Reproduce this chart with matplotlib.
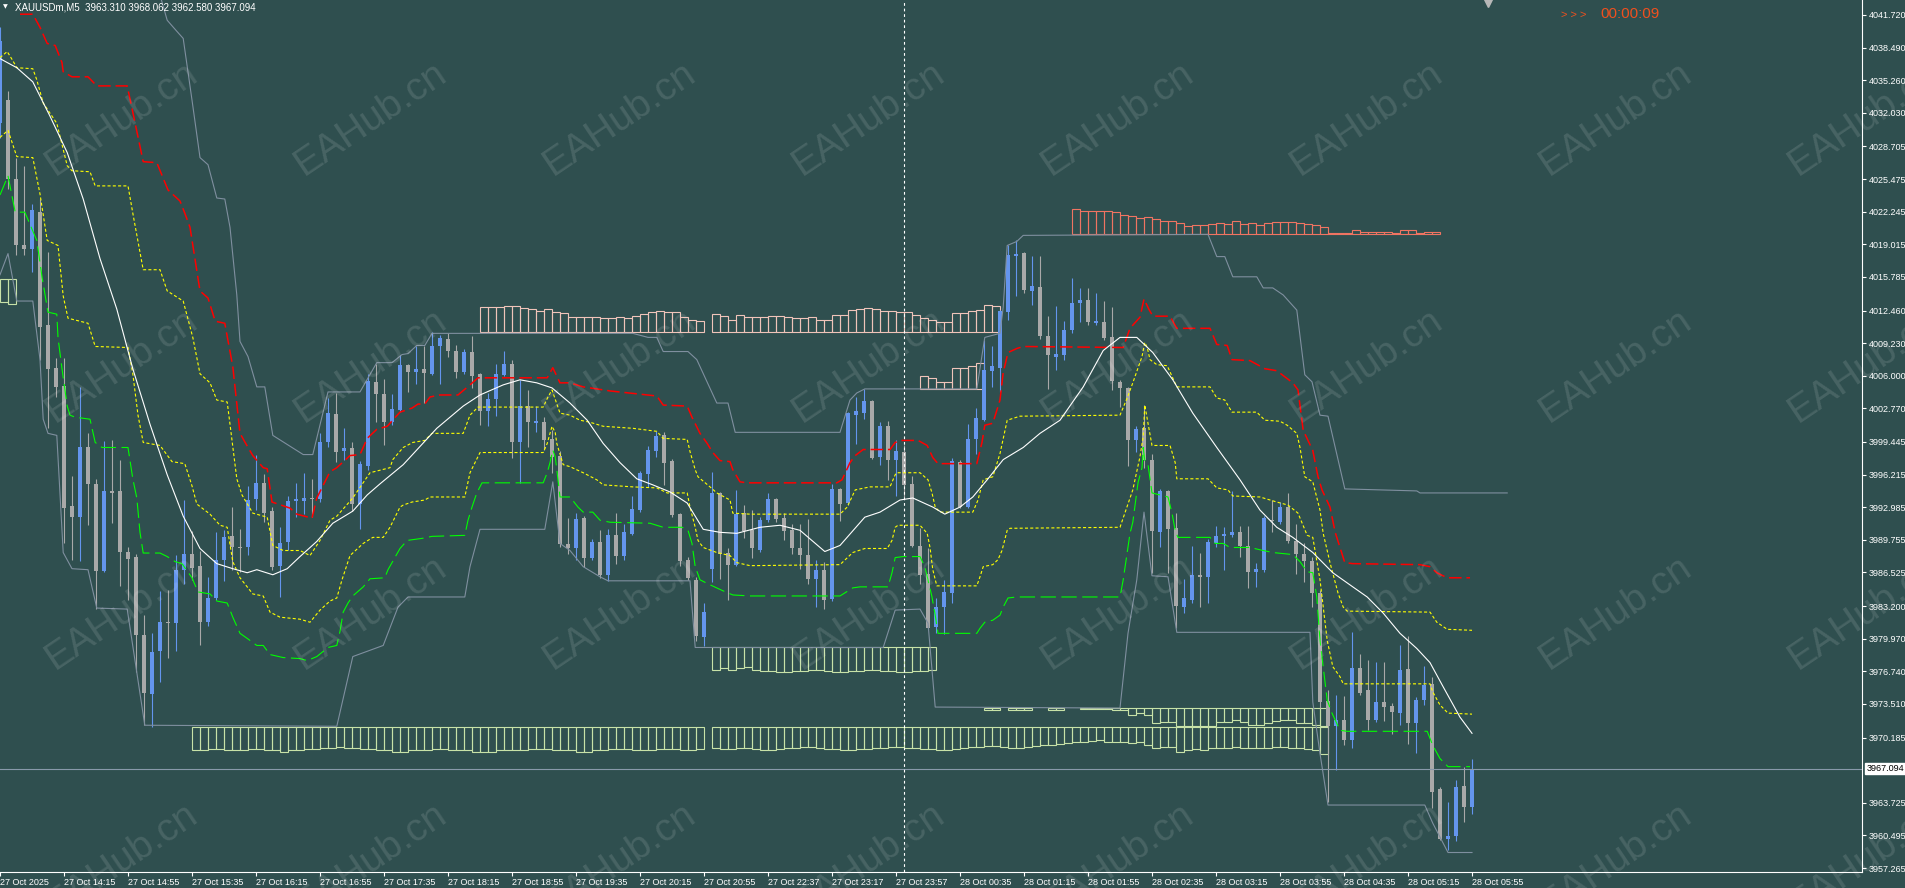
import numpy as np
import matplotlib
matplotlib.use("Agg")
import matplotlib.pyplot as plt
from matplotlib.patches import Rectangle

plt.rcParams["font.family"] = ["Liberation Sans", "DejaVu Sans"]
plt.rcParams["lines.scale_dashes"] = False

# ---------------- data ----------------
# one row per M5 bar: open, high, low, close
ohlc = [
    (4031.0, 4040.5, 4029.5, 4039.1), (4033.3, 4034.2, 4024.5, 4025.5), (4025.5, 4027.6, 4018.0, 4018.9),
    (4018.9, 4026.8, 4018.0, 4018.6), (4018.6, 4023.0, 4016.3, 4022.4), (4022.2, 4023.5, 4007.6, 4010.8),
    (4011.0, 4018.3, 4000.8, 4006.7), (4006.8, 4007.8, 4003.9, 4004.9), (4005.0, 4007.8, 3989.4, 3992.9),
    (3993.1, 3996.1, 3987.8, 3992.0), (3992.0, 4004.9, 3987.7, 3998.9), (3998.9, 4000.3, 3991.2, 3995.3),
    (3995.3, 3995.8, 3982.9, 3986.7), (3986.7, 3999.5, 3986.6, 3994.6), (3994.6, 3999.6, 3991.4, 3994.4),
    (3994.6, 3997.7, 3985.2, 3988.6), (3988.6, 3989.0, 3983.8, 3987.9), (3988.1, 3988.4, 3976.7, 3980.3),
    (3980.3, 3982.3, 3971.4, 3974.6), (3974.5, 3980.5, 3971.2, 3978.7), (3978.8, 3984.7, 3975.7, 3981.6),
    (3981.6, 3984.8, 3978.1, 3981.5), (3981.5, 3988.3, 3978.8, 3986.8), (3986.8, 3993.7, 3985.4, 3988.4),
    (3988.4, 3990.6, 3985.8, 3987.0), (3987.2, 3988.7, 3979.3, 3981.6), (3981.6, 3986.1, 3981.2, 3984.0),
    (3984.0, 3990.5, 3983.8, 3987.8), (3987.8, 3990.7, 3985.7, 3990.0), (3990.1, 3993.0, 3986.8, 3989.0),
    (3989.0, 3990.8, 3986.6, 3988.9), (3989.0, 3995.1, 3988.3, 3993.7), (3993.8, 3998.2, 3992.7, 3995.4),
    (3995.4, 3996.3, 3991.5, 3992.4), (3992.6, 3993.0, 3986.8, 3987.1), (3987.2, 3991.0, 3984.1, 3989.4),
    (3989.5, 3994.1, 3988.8, 3993.6), (3993.6, 3995.4, 3992.0, 3993.8), (3993.6, 3996.4, 3992.3, 3993.9),
    (3993.9, 3995.8, 3992.0, 3993.8), (3993.8, 4000.3, 3993.5, 3999.4), (3999.4, 4003.8, 3998.9, 4002.3),
    (4002.2, 4004.3, 3997.5, 3998.5), (3998.6, 4000.8, 3997.7, 3998.8), (3998.8, 3999.4, 3992.6, 3993.3),
    (3993.3, 3997.6, 3990.8, 3997.3), (3997.1, 4006.2, 3996.7, 4005.5), (4005.4, 4007.2, 4001.4, 4004.2),
    (4004.2, 4005.7, 3999.1, 4001.4), (4001.4, 4004.2, 4001.1, 4002.7), (4002.6, 4008.1, 4002.4, 4007.1),
    (4007.1, 4007.2, 4004.4, 4006.4), (4006.4, 4008.9, 4005.2, 4006.7), (4006.7, 4008.9, 4003.3, 4006.3),
    (4006.2, 4010.3, 4006.1, 4008.9), (4008.9, 4010.0, 4005.2, 4009.7), (4009.6, 4010.2, 4007.9, 4008.5),
    (4008.5, 4009.0, 4005.8, 4006.4), (4006.4, 4008.7, 4006.2, 4008.4), (4008.4, 4009.9, 4004.8, 4006.0),
    (4006.2, 4006.3, 4001.1, 4002.5), (4002.5, 4004.3, 4001.0, 4003.7), (4003.7, 4007.2, 4002.0, 4006.2),
    (4006.1, 4008.5, 4006.0, 4007.2), (4007.2, 4007.6, 3997.9, 3999.4), (3999.4, 4005.6, 3995.4, 4003.0),
    (4003.0, 4004.6, 3998.9, 4001.4), (4001.3, 4003.0, 4000.4, 4001.5), (4001.4, 4001.9, 3998.7, 3999.6),
    (3999.7, 4000.6, 3996.4, 3998.0), (3998.1, 3998.6, 3989.0, 3989.3), (3989.3, 3991.9, 3988.4, 3988.9),
    (3988.9, 3992.4, 3987.8, 3991.8), (3991.9, 3992.1, 3987.1, 3988.0), (3988.0, 3989.8, 3987.8, 3989.5),
    (3989.5, 3990.7, 3986.0, 3986.3), (3986.3, 3990.8, 3985.7, 3990.2), (3990.2, 3992.4, 3987.4, 3988.2),
    (3988.2, 3991.3, 3987.8, 3990.5), (3990.3, 3994.1, 3990.2, 3992.8), (3992.7, 3996.6, 3992.5, 3996.4),
    (3996.3, 3999.0, 3995.0, 3998.7), (3998.6, 4000.5, 3998.0, 4000.0), (4000.1, 4000.4, 3995.2, 3997.4),
    (3997.6, 3997.8, 3992.0, 3992.2), (3992.3, 3992.4, 3987.2, 3987.7), (3987.8, 3988.1, 3985.8, 3986.0),
    (3985.8, 3986.1, 3979.7, 3980.2), (3980.1, 3983.5, 3979.2, 3982.6), (3986.9, 3996.5, 3985.6, 3994.4),
    (3994.4, 3994.5, 3985.9, 3988.4), (3988.5, 3988.9, 3983.8, 3987.3), (3987.3, 3994.7, 3987.2, 3992.3),
    (3992.4, 3993.2, 3989.9, 3990.6), (3990.7, 3992.7, 3988.0, 3988.9), (3988.8, 3992.0, 3988.6, 3991.7),
    (3991.7, 3994.4, 3991.5, 3993.8), (3993.8, 3993.9, 3991.5, 3991.8), (3991.9, 3992.4, 3989.7, 3990.6),
    (3990.7, 3991.3, 3988.4, 3988.9), (3988.9, 3991.3, 3986.9, 3988.3), (3988.3, 3991.8, 3985.4, 3985.9),
    (3985.9, 3987.8, 3983.1, 3986.8), (3986.8, 3987.6, 3982.9, 3983.8), (3983.9, 3995.3, 3983.7, 3994.8),
    (3994.8, 3994.9, 3991.6, 3993.3), (3993.4, 4002.4, 3993.2, 4002.3), (4002.1, 4003.9, 3999.2, 4002.5),
    (4002.3, 4004.7, 4001.7, 4003.5), (4003.5, 4003.6, 3997.8, 3997.9), (3998.0, 4001.4, 3997.2, 4001.0),
    (4001.0, 4001.5, 3995.7, 3997.7), (3997.7, 3999.6, 3994.1, 3998.6), (3998.5, 3999.1, 3993.9, 3995.2),
    (3995.3, 3996.1, 3989.0, 3989.1), (3989.1, 3990.9, 3985.4, 3986.3), (3986.4, 3988.9, 3980.9, 3981.0),
    (3981.1, 3984.0, 3980.5, 3983.1), (3983.1, 3985.8, 3980.4, 3984.6), (3984.5, 3997.9, 3983.5, 3997.6),
    (3997.5, 3997.7, 3992.9, 3993.0), (3993.0, 4001.2, 3992.9, 3999.7), (3999.7, 4002.8, 3998.3, 4001.8),
    (4001.6, 4009.5, 4001.5, 4006.6), (4006.5, 4008.9, 4004.9, 4007.0), (4006.8, 4012.5, 4004.4, 4012.4),
    (4012.3, 4018.9, 4011.5, 4018.0), (4017.9, 4019.4, 4013.9, 4018.1), (4018.2, 4018.3, 4014.2, 4014.5),
    (4014.4, 4017.9, 4013.0, 4014.9), (4014.8, 4017.9, 4009.6, 4009.9), (4009.9, 4011.9, 4004.7, 4008.1),
    (4007.9, 4012.9, 4006.6, 4008.2), (4008.1, 4011.4, 4007.6, 4010.5), (4010.5, 4015.7, 4010.2, 4013.2),
    (4013.2, 4014.7, 4011.3, 4013.5), (4013.5, 4014.7, 4011.0, 4011.3), (4011.2, 4014.2, 4011.0, 4011.4),
    (4011.3, 4013.4, 4009.5, 4009.7), (4009.8, 4012.8, 4004.6, 4005.5), (4005.4, 4005.6, 4002.9, 4004.8),
    (4004.8, 4004.9, 3997.1, 3999.6), (3999.6, 4001.0, 3998.5, 4000.7), (4000.8, 4003.1, 3996.9, 3997.7),
    (3997.7, 3998.3, 3986.5, 3990.6), (3990.5, 3994.8, 3989.0, 3994.6), (3994.6, 3994.7, 3986.5, 3990.8),
    (3990.9, 3992.4, 3981.0, 3983.2), (3983.1, 3985.9, 3982.5, 3984.0), (3983.8, 3989.1, 3983.5, 3986.3),
    (3986.3, 3988.5, 3983.1, 3986.1), (3986.1, 3989.8, 3983.5, 3989.5), (3989.4, 3991.1, 3989.0, 3990.1),
    (3990.1, 3991.0, 3986.8, 3990.3), (3990.2, 3994.6, 3990.0, 3990.5), (3990.5, 3991.1, 3988.1, 3989.1),
    (3989.1, 3991.1, 3985.0, 3986.6), (3986.6, 3987.5, 3985.1, 3986.9), (3986.8, 3992.1, 3986.6, 3991.9),
    (3991.7, 3993.7, 3990.5, 3991.6), (3991.5, 3993.5, 3991.3, 3993.0), (3993.0, 3994.4, 3989.4, 3989.6),
    (3989.6, 3991.3, 3986.4, 3988.4), (3988.4, 3989.4, 3985.6, 3987.7), (3987.7, 3988.1, 3983.1, 3984.5),
    (3984.5, 3984.8, 3973.1, 3973.7), (3973.8, 3974.9, 3963.8, 3971.3), (3971.3, 3974.4, 3967.0, 3971.9),
    (3971.9, 3974.3, 3969.4, 3969.9), (3969.9, 3980.6, 3969.1, 3977.1), (3977.1, 3978.5, 3974.4, 3974.6),
    (3974.9, 3977.9, 3970.9, 3971.9), (3971.9, 3977.7, 3971.7, 3973.7), (3973.7, 3977.7, 3971.8, 3973.2),
    (3973.3, 3973.6, 3970.5, 3972.7), (3972.6, 3979.3, 3971.4, 3976.9), (3977.0, 3980.2, 3969.5, 3971.6),
    (3971.6, 3974.2, 3968.7, 3973.9), (3973.9, 3977.3, 3973.4, 3975.4), (3975.5, 3976.2, 3963.2, 3964.8),
    (3965.1, 3965.3, 3960.0, 3960.1), (3960.1, 3963.8, 3959.0, 3960.4), (3960.4, 3966.0, 3959.9, 3965.3),
    (3965.4, 3967.3, 3961.8, 3963.3), (3963.31, 3968.062, 3962.58, 3967.094),
]

time_labels = ["27 Oct 2025", "27 Oct 14:15", "27 Oct 14:55", "27 Oct 15:35", "27 Oct 16:15",
               "27 Oct 16:55", "27 Oct 17:35", "27 Oct 18:15", "27 Oct 18:55", "27 Oct 19:35",
               "27 Oct 20:15", "27 Oct 20:55", "27 Oct 22:37", "27 Oct 23:17", "27 Oct 23:57",
               "28 Oct 00:35", "28 Oct 01:15", "28 Oct 01:55", "28 Oct 02:35", "28 Oct 03:15",
               "28 Oct 03:55", "28 Oct 04:35", "28 Oct 05:15", "28 Oct 05:55"]

price_ticks = [4041.720, 4038.490, 4035.260, 4032.030, 4028.705, 4025.475, 4022.245, 4019.015,
               4015.785, 4012.460, 4009.230, 4006.000, 4002.770, 3999.445, 3996.215, 3992.985,
               3989.755, 3986.525, 3983.200, 3979.970, 3976.740, 3973.510, 3970.185, 3963.725,
               3960.495, 3957.265]
last_price = 3967.094
separator_bar = 113

# indicator lines as (bar, price) vertices
ma_pts = [(0, 4037.4), (2.1, 4036.5), (4.1, 4035.1), (6.25, 4031.7), (8.4, 4028.1), (10.4, 4023.5),
          (12.5, 4017.6), (14.6, 4012.6), (16.6, 4006.7), (18.75, 4001.2), (20.9, 3996.2), (22.9, 3992.1),
          (25.0, 3988.9), (27.1, 3987.4), (29.1, 3986.9), (30.9, 3986.5), (32.1, 3986.8), (34.1, 3986.3),
          (35.9, 3986.9), (37.5, 3988.1), (39.6, 3989.6), (41.6, 3991.4), (44.1, 3992.6), (45.9, 3994.2),
          (47.5, 3995.3), (50.4, 3997.2), (54.6, 4000.8), (57.9, 4003.0), (60.0, 4004.1), (62.9, 4005.1),
          (65.0, 4005.6), (67.1, 4005.3), (69.0, 4004.8), (71.25, 4003.3), (73.4, 4001.6), (75.4, 3999.3),
          (77.5, 3997.4), (79.6, 3995.8), (81.6, 3995.2), (83.75, 3994.5), (85.9, 3993.4), (87.9, 3990.8),
          (90.0, 3990.5), (92.1, 3990.4), (95.0, 3991.0), (97.5, 3991.2), (100.0, 3990.7), (103.1, 3988.6),
          (105.0, 3989.2), (108.1, 3992.0), (110.0, 3992.5), (112.5, 3993.7), (114.1, 3993.9), (116.6, 3993.0),
          (118.1, 3992.3), (120.0, 3993.0), (121.6, 3994.0), (123.4, 3995.7), (125.4, 3997.7), (127.9, 3998.9),
          (130.0, 4000.3), (132.5, 4001.6), (135.4, 4004.9), (137.9, 4008.5), (140.0, 4009.8), (142.1, 4009.8),
          (144.1, 4008.3), (146.6, 4005.6), (149.1, 4002.3), (152.1, 3998.9), (155.0, 3995.7), (157.5, 3992.7),
          (159.6, 3991.0), (161.6, 3990.0), (164.1, 3988.5), (166.6, 3986.5), (169.1, 3985.1), (170.9, 3984.1),
          (172.9, 3982.5), (175.0, 3980.5), (177.1, 3979.0), (178.75, 3977.6), (180.4, 3975.2), (182.5, 3972.2),
          (184.0, 3970.6)]

band_upper_pts = [(0, 4037.5), (0.9, 4038.1), (1.6, 4037.2), (2.1, 4036.5), (4.1, 4036.4), (4.6, 4035.3),
                  (5.4, 4033.0), (7.1, 4031.0), (7.75, 4028.9), (8.4, 4026.8), (9.0, 4026.3), (11.25, 4026.2),
                  (11.9, 4024.8), (16.0, 4024.8), (16.6, 4022.1), (17.9, 4016.5), (20.0, 4016.5), (20.9, 4014.4),
                  (22.9, 4013.4), (24.1, 4009.8), (25.0, 4006.2), (26.25, 4005.3), (27.1, 4003.6), (28.4, 4003.4),
                  (28.75, 4001.2), (29.6, 3995.8), (30.25, 3994.2), (31.6, 3992.4), (33.4, 3992.0), (34.1, 3989.2),
                  (35.4, 3988.7), (37.5, 3988.7), (38.75, 3988.2), (40.0, 3989.7), (41.25, 3991.7), (42.1, 3992.1),
                  (44.1, 3993.9), (46.25, 3996.4), (48.75, 3996.9), (49.1, 3997.7), (50.4, 3998.9), (51.6, 3999.4),
                  (53.1, 3999.6), (54.0, 4000.3), (57.9, 4000.3), (58.75, 4002.1), (59.75, 4002.9), (67.9, 4002.9),
                  (68.5, 4003.9), (69.0, 4004.6), (70.0, 4002.3), (71.25, 4002.1), (72.5, 4001.6), (73.75, 4001.4),
                  (75.4, 4001.0), (79.1, 4000.8), (82.1, 4000.5), (82.9, 3999.8), (85.9, 3999.7), (86.25, 3998.5),
                  (86.9, 3996.7), (87.25, 3996.0), (88.75, 3995.0), (89.6, 3994.4), (91.25, 3993.7), (91.6, 3992.4),
                  (93.75, 3992.3), (105.0, 3992.3), (105.9, 3993.0), (106.9, 3994.7), (108.75, 3995.0), (111.25, 3995.0),
                  (111.9, 3996.2), (112.1, 3996.4), (115.0, 3996.4), (116.0, 3995.7), (116.5, 3994.4), (116.9, 3993.0),
                  (117.5, 3992.5), (121.6, 3992.5), (122.25, 3993.7), (122.9, 3995.7), (124.1, 3996.0), (125.0, 3998.3),
                  (125.9, 4001.6), (127.5, 4002.0), (140.0, 4002.1), (140.9, 4003.8), (141.6, 4005.3), (142.75, 4007.9),
                  (143.1, 4009.3), (143.4, 4008.8), (143.75, 4007.6), (144.6, 4007.1), (145.9, 4007.0), (147.1, 4004.9),
                  (151.25, 4004.9), (152.1, 4003.8), (153.1, 4003.6), (154.0, 4002.4), (157.1, 4002.4), (158.1, 4001.6),
                  (160.0, 4001.5), (160.9, 4001.1), (162.1, 4000.3), (162.5, 3998.9), (163.1, 3996.0), (164.1, 3995.5),
                  (165.0, 3992.7), (165.4, 3990.4), (166.25, 3987.5), (167.25, 3984.5), (167.9, 3983.1), (168.4, 3982.7),
                  (178.75, 3982.6), (179.6, 3981.6), (180.9, 3980.9), (184.0, 3980.8)]

band_lower_pts = [(0, 4029.6), (1.0, 4030.3), (2.1, 4027.7), (4.1, 4027.6), (5.0, 4024.0), (5.9, 4019.4),
                  (7.25, 4018.9), (7.9, 4013.9), (8.5, 4011.7), (11.0, 4011.2), (11.9, 4008.9), (16.0, 4008.8),
                  (16.6, 4006.2), (17.25, 4002.1), (17.9, 3999.4), (20.0, 3999.1), (21.5, 3997.5), (23.1, 3997.3),
                  (24.0, 3995.1), (24.6, 3993.3), (26.25, 3992.3), (27.5, 3991.2), (28.4, 3991.0), (29.1, 3987.6),
                  (30.0, 3986.0), (31.6, 3984.4), (32.9, 3984.2), (33.75, 3982.6), (35.0, 3982.1), (37.5, 3981.9),
                  (38.75, 3981.6), (40.0, 3982.8), (41.25, 3983.7), (42.1, 3984.0), (42.75, 3985.8), (43.75, 3988.2),
                  (45.4, 3989.4), (46.6, 3990.0), (47.9, 3990.0), (48.75, 3991.0), (50.0, 3993.0), (50.4, 3993.2),
                  (51.5, 3993.5), (53.1, 3993.7), (53.75, 3994.0), (58.1, 3994.0), (58.75, 3996.4), (60.0, 3998.4),
                  (67.9, 3998.4), (68.4, 3999.3), (69.0, 4001.0), (69.4, 4000.4), (69.6, 3999.3), (70.4, 3997.2),
                  (71.25, 3997.0), (72.9, 3996.4), (74.6, 3995.7), (75.4, 3995.2), (79.1, 3995.0), (82.1, 3994.9),
                  (83.4, 3994.4), (85.9, 3994.4), (86.25, 3993.0), (86.9, 3991.0), (87.25, 3989.7), (87.9, 3989.0),
                  (89.6, 3988.5), (91.25, 3988.2), (92.1, 3987.5), (93.75, 3987.2), (105.0, 3987.3), (106.6, 3988.5),
                  (108.1, 3988.9), (110.9, 3988.9), (111.5, 3989.7), (111.9, 3991.0), (112.25, 3991.2), (115.0, 3991.2),
                  (115.9, 3990.4), (116.25, 3989.0), (116.6, 3986.8), (117.1, 3985.2), (122.1, 3985.2), (122.5, 3986.1),
                  (122.9, 3987.1), (124.1, 3987.3), (124.75, 3987.8), (125.25, 3988.7), (125.9, 3990.7), (126.25, 3990.9),
                  (140.0, 3991.0), (141.6, 3994.7), (142.5, 3998.0), (142.9, 4000.0), (143.1, 4003.1), (143.5, 4001.3),
                  (144.0, 3999.1), (146.25, 3999.1), (146.9, 3997.4), (147.1, 3995.8), (151.0, 3995.8), (152.1, 3994.9),
                  (153.5, 3994.7), (154.1, 3994.1), (157.5, 3994.0), (159.6, 3993.5), (161.0, 3993.2), (162.25, 3992.4),
                  (163.4, 3990.2), (164.1, 3990.0), (165.0, 3985.8), (165.9, 3979.8), (166.6, 3977.2), (167.5, 3976.2),
                  (167.9, 3975.5), (178.75, 3975.5), (179.1, 3974.7), (180.0, 3973.4), (181.0, 3972.6), (184.0, 3972.5)]

red_pts = [(2.5, 4041.8), (4.1, 4041.8), (5.0, 4040.5), (5.9, 4038.9), (6.9, 4038.7), (7.75, 4037.0),
           (7.9, 4036.1), (9.0, 4035.6), (11.0, 4035.6), (12.1, 4034.7), (15.9, 4034.7), (16.6, 4032.1),
           (17.9, 4027.2), (19.6, 4027.1), (21.0, 4024.4), (22.5, 4023.3), (23.1, 4022.1), (23.75, 4020.7),
           (25.0, 4014.4), (26.0, 4013.7), (26.9, 4011.4), (28.1, 4011.2), (29.1, 4006.9), (30.0, 4000.3),
           (31.0, 3998.9), (31.6, 3998.1), (32.9, 3996.9), (33.4, 3996.8), (34.0, 3993.5), (36.25, 3992.9),
           (37.1, 3992.3), (39.0, 3991.9), (39.6, 3993.9), (41.25, 3996.5), (42.1, 3996.9), (43.75, 3998.1),
           (45.0, 3998.2), (45.9, 3999.8), (47.1, 4000.7), (48.4, 4001.0), (50.0, 4002.4), (51.5, 4002.8),
           (52.25, 4003.2), (53.1, 4003.2), (53.75, 4003.9), (55.0, 4004.1), (57.25, 4004.1), (58.75, 4005.1),
           (59.75, 4005.8), (68.4, 4005.8), (69.1, 4006.8), (70.0, 4005.3), (71.25, 4005.3), (72.9, 4004.9),
           (74.6, 4004.7), (76.25, 4004.5), (82.1, 4004.0), (82.9, 4003.1), (85.9, 4003.0), (86.5, 4001.9),
           (87.5, 4000.3), (88.4, 3999.3), (89.1, 3998.4), (90.0, 3997.6), (91.25, 3997.5), (91.6, 3996.7),
           (92.5, 3995.5), (93.4, 3995.4), (104.6, 3995.4), (105.25, 3995.7), (106.25, 3997.4), (106.9, 3998.1),
           (107.9, 3998.7), (111.25, 3998.7), (111.9, 3999.4), (112.75, 3999.6), (114.75, 3999.6), (115.9, 3999.1),
           (116.6, 3997.9), (117.25, 3997.3), (122.1, 3997.3), (122.75, 3999.4), (123.1, 4001.1), (124.1, 4001.3),
           (125.0, 4003.6), (125.4, 4006.3), (126.0, 4008.3), (127.1, 4008.7), (127.9, 4008.9), (140.4, 4008.8),
           (141.25, 4010.7), (142.5, 4011.8), (143.0, 4013.6), (143.6, 4012.6), (144.1, 4011.9), (146.25, 4011.9),
           (147.1, 4010.7), (151.25, 4010.7), (152.1, 4009.1), (153.4, 4009.0), (154.0, 4007.6), (156.25, 4007.5),
           (158.1, 4006.7), (159.6, 4006.5), (161.6, 4005.3), (162.25, 4004.6), (162.9, 4000.6), (164.1, 3998.6),
           (164.75, 3996.0), (165.25, 3994.7), (166.25, 3993.0), (166.9, 3990.5), (167.5, 3989.0), (168.1, 3987.5),
           (169.1, 3987.4), (177.5, 3987.3), (178.75, 3987.1), (179.6, 3986.5), (180.9, 3986.0), (183.75, 3986.0)]

green_pts = [(0, 4023.9), (1.0, 4025.8), (1.9, 4022.2), (3.1, 4022.2), (4.6, 4019.4), (5.25, 4015.8),
             (6.0, 4012.3), (7.1, 4012.1), (7.25, 4009.8), (7.75, 4006.7), (8.4, 4003.0), (8.75, 4002.1),
             (9.4, 4001.9), (11.25, 4001.7), (11.9, 3999.4), (12.75, 3998.9), (16.0, 3998.9), (16.6, 3995.8),
             (17.1, 3993.9), (17.5, 3990.5), (17.9, 3988.45), (20.0, 3988.45), (20.9, 3988.1), (21.9, 3987.6),
             (22.75, 3987.4), (24.0, 3986.0), (24.75, 3984.6), (26.25, 3984.4), (27.1, 3983.7), (28.4, 3983.5),
             (29.1, 3982.1), (30.0, 3980.5), (30.9, 3980.0), (32.1, 3979.3), (32.9, 3979.3), (33.75, 3978.4),
             (35.4, 3978.1), (37.5, 3978.0), (38.4, 3977.8), (39.6, 3978.2), (41.0, 3979.1), (42.1, 3979.3),
             (42.5, 3980.7), (42.9, 3982.6), (43.5, 3983.5), (44.1, 3984.2), (45.4, 3985.1), (46.25, 3985.9),
             (48.1, 3986.0), (48.5, 3986.8), (49.0, 3987.5), (50.0, 3988.9), (50.9, 3989.7), (52.75, 3989.9),
             (54.0, 3990.1), (58.1, 3990.2), (58.5, 3991.7), (59.0, 3993.0), (59.6, 3994.4), (60.25, 3995.4),
             (67.9, 3995.4), (68.4, 3996.4), (68.75, 3997.4), (69.1, 3998.65), (69.4, 3998.0), (69.6, 3996.7),
             (70.0, 3994.0), (71.25, 3994.0), (72.25, 3993.0), (72.9, 3992.5), (74.1, 3992.5), (75.0, 3991.7),
             (76.25, 3991.5), (81.25, 3991.4), (82.9, 3991.0), (85.25, 3991.0), (86.0, 3990.7), (86.5, 3989.4),
             (86.9, 3987.1), (87.5, 3985.8), (88.5, 3985.4), (90.4, 3984.7), (91.6, 3984.3), (93.75, 3984.2),
             (105.0, 3984.2), (106.6, 3985.0), (107.5, 3985.1), (111.0, 3985.1), (111.5, 3986.5), (111.9, 3988.0),
             (112.9, 3988.1), (115.0, 3988.1), (115.6, 3987.1), (116.0, 3985.8), (116.5, 3984.1), (116.9, 3982.3),
             (117.25, 3980.5), (122.1, 3980.5), (122.5, 3981.0), (123.1, 3981.6), (124.1, 3981.8), (125.0, 3982.3),
             (125.4, 3983.1), (126.0, 3984.0), (127.1, 3984.1), (140.0, 3984.1), (140.4, 3985.8), (141.25, 3990.4),
             (141.6, 3991.5), (142.25, 3995.4), (142.75, 3996.9), (142.9, 3998.9), (143.1, 3997.6), (143.5, 3997.2),
             (144.0, 3994.4), (145.0, 3994.2), (146.0, 3994.0), (146.5, 3992.4), (146.9, 3990.7), (147.25, 3990.0),
             (151.25, 3990.0), (151.9, 3989.4), (152.9, 3989.4), (153.75, 3989.0), (156.25, 3989.0), (157.9, 3988.7),
             (159.1, 3988.5), (161.6, 3988.3), (162.5, 3987.6), (163.4, 3986.6), (164.1, 3986.5), (164.6, 3984.1),
             (165.0, 3979.8), (165.9, 3973.9), (166.5, 3972.6), (167.5, 3970.9), (168.4, 3970.8), (178.4, 3970.8),
             (179.1, 3969.4), (180.0, 3968.1), (181.0, 3967.3), (183.75, 3967.3)]

chan_upper_pts = [(20.0, 4043.7), (20.9, 4041.2), (22.0, 4040.2), (22.9, 4039.4), (24.0, 4033.3), (25.0, 4027.6),
                  (26.0, 4026.9), (27.1, 4023.6), (28.1, 4023.5), (28.75, 4020.7), (29.6, 4014.0), (30.0, 4009.4),
                  (31.0, 4007.9), (32.1, 4004.9), (33.1, 4004.9), (34.1, 4000.1), (37.9, 3998.2), (39.1, 3998.2),
                  (41.0, 4004.4), (45.0, 4004.4), (47.1, 4007.3), (49.0, 4007.3), (50.25, 4008.1), (51.0, 4008.2),
                  (52.1, 4009.0), (53.1, 4009.0), (54.0, 4010.2), (79.1, 4010.2), (81.0, 4009.8), (82.1, 4009.8),
                  (82.9, 4008.4), (86.0, 4008.4), (87.1, 4007.6), (89.6, 4003.3), (91.0, 4003.3), (91.9, 4000.4),
                  (105.0, 4000.4), (106.25, 4003.6), (107.1, 4004.3), (108.1, 4004.7), (122.1, 4004.7), (123.1, 4009.8),
                  (125.0, 4010.2), (125.4, 4012.8), (125.9, 4018.9), (127.1, 4019.3), (127.9, 4019.9), (151.0, 4020.0),
                  (152.1, 4017.8), (153.1, 4017.8), (154.1, 4015.8), (157.1, 4015.8), (157.9, 4014.7), (159.1, 4014.7),
                  (160.4, 4014.0), (162.1, 4012.5), (163.1, 4006.1), (164.0, 4005.4), (165.0, 4002.1), (166.0, 4002.0),
                  (168.1, 3994.8), (177.1, 3994.6), (177.5, 3994.4), (188.4, 3994.4)]

chan_lower_pts = [(0, 4016.0), (1.0, 4018.1), (2.1, 4013.4), (4.1, 4013.4), (5.0, 4007.6), (5.4, 4001.7),
                  (6.0, 4000.3), (7.1, 4000.1), (7.9, 3988.5), (9.0, 3986.9), (11.0, 3986.8), (12.1, 3983.0),
                  (15.9, 3982.9), (18.1, 3971.4), (42.1, 3971.3), (44.1, 3978.2), (47.9, 3979.3), (49.75, 3983.1),
                  (51.0, 3984.1), (58.1, 3984.1), (58.75, 3987.1), (60.0, 3990.8), (68.1, 3990.8), (69.1, 3995.5),
                  (70.0, 3989.4), (71.25, 3988.7), (72.9, 3987.1), (75.0, 3986.1), (76.0, 3985.7), (86.25, 3985.7),
                  (86.9, 3979.1), (110.4, 3979.1), (111.9, 3982.8), (115.0, 3982.9), (116.0, 3981.5), (116.9, 3973.2),
                  (140.0, 3973.1), (141.0, 3980.5), (142.1, 3985.8), (143.0, 3992.5), (144.0, 3986.2), (146.0, 3986.1),
                  (147.1, 3980.6), (163.75, 3980.6), (164.1, 3973.7), (165.0, 3968.6), (166.0, 3963.5), (178.1, 3963.5),
                  (179.1, 3961.7), (181.0, 3958.8), (184.0, 3958.8)]

# volume-profile style boxes: first bar, base price, box heights (price units)
salmon_start, salmon_base = 134, 4020.0
salmon_h = [2.5, 2.35, 2.35, 2.35, 2.35, 2.25, 1.9, 1.85, 1.6, 1.7, 1.5, 1.3, 1.3, 1.1, 0.8, 0.9,
            0.9, 1.0, 1.1, 1.0, 1.3, 1.0, 1.1, 0.9, 1.1, 1.2, 1.2, 1.2, 1.1, 1.0, 0.9, 0.7,
            0.1, 0.1, 0.1, 0.4, 0.25, 0.25, 0.25, 0.25, 0.1, 0.4, 0.4, 0.1, 0.2, 0.2]
pink1_start, pink_base = 60, 4010.3
pink1_h = [2.5, 2.5, 2.5, 2.6, 2.6, 2.4, 2.3, 2.1, 2.3, 2.0, 1.9, 1.5, 1.5, 1.5, 1.5, 1.4,
           1.4, 1.5, 1.4, 1.6, 1.8, 2.0, 2.1, 2.0, 2.0, 1.5, 1.2, 1.1]
pink2_start = 89
pink2_h = [1.8, 1.6, 1.2, 1.7, 1.5, 1.5, 1.5, 1.6, 1.6, 1.5, 1.4, 1.4, 1.5, 1.2, 1.2, 1.7, 1.7, 2.2,
           2.3, 2.4, 2.3, 2.1, 2.1, 2.0, 2.0, 1.7, 1.4, 1.2, 1.0, 1.0, 1.9, 1.9, 2.1, 2.2, 2.7, 2.6]
pink3_start, pink3_base = 115, 4004.7
pink3_h = [1.3, 1.1, 0.7, 0.7, 2.1, 2.1, 2.3, 2.6]

green_low_top = 3971.2
g1_start = 24
g1_h = [2.3, 2.3, 2.2, 2.2, 2.3, 2.3, 2.3, 2.2, 2.2, 2.3, 2.3, 2.4, 2.3, 2.3, 2.2, 2.2,
        2.1, 2.1, 2.0, 2.1, 2.1, 2.2, 2.2, 2.3, 2.3, 2.4, 2.4, 2.3, 2.3, 2.3, 2.2, 2.2,
        2.3, 2.3, 2.3, 2.4, 2.4, 2.4, 2.3, 2.3, 2.3, 2.3, 2.2, 2.2, 2.2, 2.3, 2.3, 2.3,
        2.4, 2.4, 2.3, 2.3, 2.2, 2.2, 2.2, 2.3, 2.3, 2.3, 2.2, 2.2, 2.2, 2.3, 2.3, 2.2]
g2_start = 89
g2_h = [2.1, 2.2, 2.2, 2.1, 2.1, 2.2, 2.3, 2.3, 2.2, 2.1, 2.1, 2.0, 2.0, 2.1, 2.2, 2.2,
        2.3, 2.3, 2.2, 2.2, 2.1, 2.1, 2.0, 2.0, 2.1, 2.1, 2.2, 2.2, 2.3, 2.3, 2.2, 2.1,
        2.0, 2.0, 1.9, 1.9, 2.0, 2.1, 2.1, 2.0, 1.9, 1.8, 1.8, 1.7, 1.6, 1.5, 1.5, 1.4,
        1.3, 1.5, 1.5, 1.5, 1.6, 1.5, 1.8, 2.1, 2.0, 2.0, 2.4, 2.3, 2.2, 2.3, 2.1, 2.1,
        2.1, 2.0, 2.1, 2.1, 2.1, 2.1, 2.0, 2.0, 2.1, 2.1, 2.2, 2.3, 2.6]
g3_start, g3_top = 123, 3973.1
g3_h = [0.2, 0.2, 0.0, 0.15, 0.15, 0.15, 0.0, 0.0, 0.15, 0.15, 0.0, 0.0, 0.1, 0.1, 0.1, 0.1,
        0.17, 0.17, 0.66, 0.5, 0.66, 1.5, 1.4, 1.4, 1.8, 1.8, 1.8, 1.8, 1.8, 1.4, 1.4, 1.15,
        1.4, 1.65, 1.65, 1.5, 1.3, 1.2, 1.2, 1.5, 1.5, 1.65, 1.8]
g5_start, g5_top = 89, 3979.1
g5_h = [2.2, 2.0, 2.25, 2.0, 1.9, 2.2, 2.3, 2.3, 2.4, 2.4, 2.3, 2.3, 2.2, 2.2,
        2.3, 2.4, 2.4, 2.3, 2.3, 2.2, 2.2, 2.3, 2.3, 2.4, 2.4, 2.3, 2.3, 2.2]
g4_start, g4_top = 0, 4015.6
g4_h = [2.3, 2.5]

# ---------------- drawing ----------------
BG = "#2F4F4F"
BULL = "#6495ED"
BEAR = "#A9A9A9"
W, H = 1905, 888

fig = plt.figure(figsize=(W / 100, H / 100), dpi=100, facecolor=BG)
ax = fig.add_axes([0, 16 / H, 1862 / W, 872 / H], facecolor=BG)
ax.set_xlim(0, 1862 / 8)
ax.set_ylim(3956.87, 4043.205)


def boxes(start, base, heights, color, down=False):
    for k, hgt in enumerate(heights):
        if hgt <= 0:
            continue
        y0 = base - hgt if down else base
        ax.add_patch(Rectangle((start + k, y0), 1, hgt, fill=False,
                               edgecolor=color, lw=0.8, zorder=2))


boxes(salmon_start, salmon_base, salmon_h, "#F07462")
boxes(pink1_start, pink_base, pink1_h, "#F0C4BA")
boxes(pink2_start, pink_base, pink2_h, "#F0C4BA")
boxes(pink3_start, pink3_base, pink3_h, "#F0C4BA")
GREEN_BOX = "#C8E2A8"
boxes(g1_start, green_low_top, g1_h, GREEN_BOX, down=True)
boxes(g2_start, green_low_top, g2_h, GREEN_BOX, down=True)
boxes(g3_start, g3_top, g3_h, GREEN_BOX, down=True)
boxes(g5_start, g5_top, g5_h, GREEN_BOX, down=True)
boxes(g4_start, g4_top, g4_h, GREEN_BOX, down=True)

# candles
o, h, l, c = np.array(ohlc).T
x = np.arange(len(o))
col = np.where(c >= o, BULL, BEAR)
ax.vlines(x, l, h, colors=col, lw=0.8, zorder=3)
ax.bar(x, np.maximum(np.abs(c - o), 0.1), bottom=np.minimum(o, c), width=0.45,
       color=col, linewidth=0, zorder=3)


def line(pts, **kw):
    xs, ys = zip(*pts)
    ax.plot(xs, ys, zorder=4, **kw)


line(chan_upper_pts, color="#7F8F9F", lw=0.8)
line(chan_lower_pts, color="#7F8F9F", lw=0.8)
line(band_upper_pts, color="#FFFF00", lw=0.8, ls=(0, (2.2, 1.6)))
line(band_lower_pts, color="#FFFF00", lw=0.8, ls=(0, (2.2, 1.6)))
line(green_pts, color="#00FF00", lw=0.8, ls=(0, (11, 4)))
line(red_pts, color="#FF0000", lw=1.1, ls=(0, (9, 3.5)))
line(ma_pts, color="white", lw=0.8)

ax.axhline(last_price, color="#8899AA", lw=0.8, zorder=4)
ax.axvline(separator_bar, color="white", lw=0.8, ls=(0, (2, 2)), zorder=4)
ax.plot([186], [4042.9], marker="v", ms=6, color="#B8B8B8", clip_on=False, zorder=6)

# axes styling
for s in ("top", "left"):
    ax.spines[s].set_visible(False)
for s in ("right", "bottom"):
    ax.spines[s].set_color("white")
    ax.spines[s].set_linewidth(0.8)
ax.yaxis.tick_right()
ax.set_yticks(price_ticks)
ax.set_yticklabels([f"{v:.3f}" for v in price_ticks])
ax.tick_params(axis="y", colors="white", labelsize=6.5, length=3, width=0.8, pad=2)
ax.set_xticks([8 * k for k in range(len(time_labels))])
ax.set_xticklabels(time_labels)
ax.tick_params(axis="x", colors="white", labelsize=6.5, length=3, width=0.8, pad=1.5)
for lab in ax.get_xticklabels():
    lab.set_horizontalalignment("left")

ax.annotate(f"{last_price:.3f}", xy=(1.0, last_price), xycoords=("axes fraction", "data"),
            xytext=(3.2, 0), textcoords="offset points", ha="left", va="center",
            fontsize=6.5, color="black", annotation_clip=False,
            bbox=dict(boxstyle="square,pad=0.12", fc="white", ec="white"))

# header texts
fig.text(15 / W, 1 - 8 / H, "XAUUSDm,M5  3963.310 3968.062 3962.580 3967.094",
         color="white", fontsize=7, va="center", ha="left")
fig.text(3 / W, 1 - 7 / H, "\u25BC", color="white", fontsize=4.5, va="center",
         ha="left", family="DejaVu Sans")
fig.text(1561 / W, 1 - 15 / H, "> > >", color="#F0501E", fontsize=8, va="center", ha="left")
fig.text(1600 / W, 1 - 14 / H, "00:00:09", color="#F0501E", fontsize=11, va="center", ha="left")

# watermark grid
for r in range(4):
    for k in range(8):
        fig.text((122 + 249 * k) / W, 1 - (119 + 247 * r) / H, "EAHub.cn",
                 color="white", alpha=0.12, fontsize=28, rotation=34,
                 rotation_mode="anchor", ha="center", va="center", zorder=10)

fig.savefig("out.png", dpi=100, facecolor=BG)
